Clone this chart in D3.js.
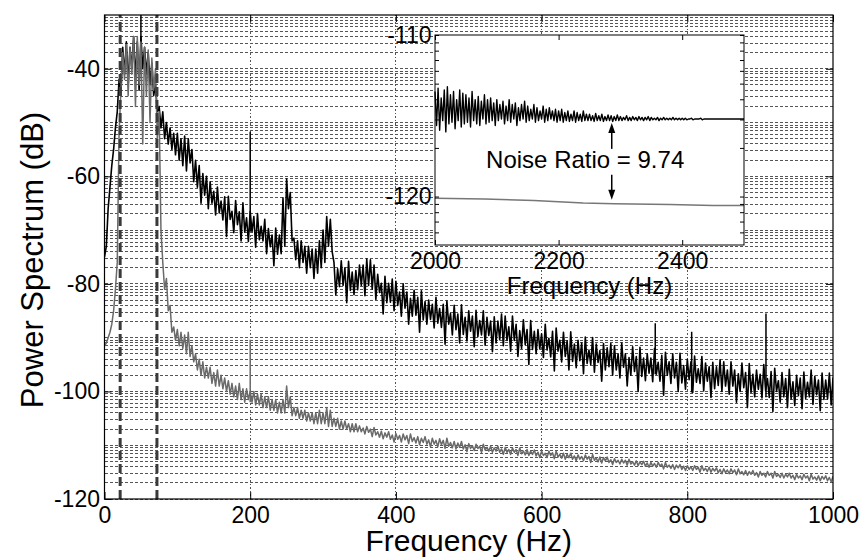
<!DOCTYPE html>
<html>
<head>
<meta charset="utf-8">
<script src="https://cdn.jsdelivr.net/npm/d3@7"></script>
<style>
  body { margin: 0; background: #fff; }
  svg { display: block; font-family: "Liberation Sans", Arial, sans-serif; }
</style>
</head>
<body>
<div id="chart"></div>
<script>
// spectrum: one high and one low value per 5 Hz bin
var freqBins = d3.range(0, 1001, 5);

var blackHigh = [
  -75, -66, -58, -51, -42, -36, -35, -36, -34, -35,
  -34, -36, -37, -39, -43, -47, -48, -50, -51, -52,
  -52, -53, -52.5, -53, -55, -57, -58, -59.5, -60, -61,
  -62.8, -62, -64.6, -63.8, -63.7, -66.5, -64.5, -66.6, -64.9, -67.7,
  -66.5, -67.5, -66.9, -69.3, -68, -69.7, -70.9, -69.6, -70.9, -64,
  -60.5, -63, -71.5, -72, -72, -73, -73, -73.5, -73.5, -72,
  -70, -67.5, -68, -76, -77.2, -75.7, -77, -75.8, -77.8, -77.5,
  -76.5, -76.5, -75.4, -75.5, -76.5, -78.2, -79.9, -78.6, -79.9, -79.1,
  -79.5, -81.5, -80, -81.5, -82.7, -81.2, -82.5, -81.3, -83.3, -83,
  -83.8, -82.5, -84.6, -83.8, -83.2, -85.5, -84, -85.6, -83.9, -86.2,
  -85, -86, -84.9, -86.8, -85, -86.2, -86.9, -86.1, -86.9, -85.6,
  -86, -88, -86, -87.5, -88.7, -86.7, -88.5, -86.8, -88.8, -88.5,
  -89.3, -87.5, -90.1, -88.8, -88.2, -90.5, -89, -90.6, -88.9, -91.2,
  -90.5, -91, -89.9, -92.3, -90, -91.2, -92.4, -91.1, -91.9, -91.1,
  -91.5, -93, -91, -93, -93.7, -91.7, -93.5, -91.8, -93.8, -93,
  -93.8, -92, -94.6, -93.3, -92.7, -94.5, -93, -94.6, -92.9, -95.2,
  -94, -94.5, -93.4, -95.8, -93.5, -94.7, -95.4, -94.6, -95.4, -94.1,
  -94.5, -96, -94.5, -96, -96.7, -94.7, -96.5, -94.8, -96.8, -96,
  -96.8, -95, -97.6, -96.3, -95.7, -98, -96.5, -97.6, -95.9, -98.2,
  -97, -97.5, -96.4, -98.3, -96, -97.2, -97.9, -96.6, -97.9, -96.6,
  -97.5
];

var blackLow = [
  -73, -62, -55, -48, -45, -41, -43, -40, -42, -44,
  -40, -41, -43, -45, -48, -51, -53, -54, -55, -56,
  -57, -58, -59, -57.5, -61, -62, -65, -63.5, -66, -65,
  -67.2, -66.8, -68.1, -71.2, -68, -70.5, -69, -72, -70.4, -72.1,
  -70.3, -73.2, -71.8, -72, -74.4, -73.1, -76.6, -74.5, -74.4, -73,
  -66, -72, -75.5, -77, -76, -78, -77, -79, -78, -77,
  -76, -73, -74, -82, -80.5, -80.3, -83.5, -81.2, -82, -81.1,
  -80.3, -82.2, -80.3, -81, -82.9, -81.6, -85.6, -83.5, -83.4, -85,
  -84, -86, -84.5, -87.5, -86, -85.8, -89, -86.7, -87.5, -86.6,
  -88.2, -87.3, -88.1, -91.2, -87.5, -89.5, -88.5, -91, -89.4, -90.6,
  -88.8, -91.7, -89.8, -89.5, -91.4, -89.6, -92.6, -91, -90.4, -91.5,
  -90.5, -92.5, -90.5, -93.5, -92, -91.3, -95, -92.2, -93, -92.1,
  -93.7, -92.3, -93.6, -96.2, -92.5, -94.5, -93.5, -96, -94.4, -95.6,
  -94.3, -96.7, -94.8, -95, -96.4, -94.6, -98.1, -96, -95.4, -97,
  -96, -97.5, -95.5, -99, -97, -96.3, -100, -97.2, -98, -96.6,
  -98.2, -96.8, -98.1, -100.7, -97, -98.5, -97.5, -100, -98.4, -99.6,
  -97.8, -100.2, -98.3, -98.5, -99.9, -98.1, -101.1, -99.5, -98.9, -100,
  -99, -100.5, -99, -102, -100, -99.3, -103, -100.2, -101, -99.6,
  -101.2, -99.8, -101.1, -103.7, -100, -102, -101, -103, -101.4, -102.6,
  -100.8, -103.2, -101.3, -101, -102.4, -100.6, -103.6, -101.5, -101.4, -102.5,
  -101.5
];

var grayHigh = [
  -91.5, -90, -87.5, -81, -52, -37, -35.5, -36, -34, -34,
  -35, -36, -36.5, -38, -40, -48, -76, -79, -84, -88,
  -88.5, -89, -89.5, -89, -91.5, -93, -94, -94.5, -95.5, -95.5,
  -96.5, -96, -97, -97.5, -98, -98.5, -99, -98.5, -99.5, -99.5,
  -100, -100, -100.5, -100.5, -101, -101, -101.5, -101.5, -102, -101.5,
  -99, -101, -103, -103, -103.5, -103.5, -104, -104, -104, -103.5,
  -104, -103, -103.5, -105, -105, -105.5, -105.5, -106, -106, -106,
  -106.4, -106.8, -106.5, -107, -106.7, -107.5, -107.4, -107.7, -107.5, -108.1,
  -107.8, -108.2, -107.9, -108.2, -107.9, -108.6, -108.4, -108.7, -108.4, -109,
  -108.7, -109.1, -108.8, -109.1, -108.7, -109.5, -109.3, -109.6, -109.3, -109.9,
  -109.7, -110.1, -109.8, -110.2, -109.8, -110.4, -110.2, -110.5, -110.2, -110.7,
  -110.4, -110.8, -110.5, -110.8, -110.5, -111.1, -110.8, -111.1, -110.9, -111.3,
  -111.1, -111.5, -111.1, -111.4, -111.1, -111.7, -111.5, -111.7, -111.5, -112,
  -111.8, -112.1, -111.8, -112.1, -111.7, -112.4, -112.2, -112.3, -112.2, -112.7,
  -112.5, -112.8, -112.6, -112.8, -112.6, -113.1, -112.9, -113.1, -113, -113.3,
  -113.2, -113.4, -113.2, -113.5, -113.2, -113.7, -113.6, -113.7, -113.6, -113.9,
  -113.8, -114, -113.8, -114.1, -113.8, -114.3, -114.1, -114.3, -114.2, -114.5,
  -114.4, -114.6, -114.4, -114.6, -114.4, -114.9, -114.7, -114.9, -114.7, -115.1,
  -114.9, -115.2, -114.9, -115.2, -114.9, -115.4, -115.2, -115.4, -115.2, -115.6,
  -115.4, -115.7, -115.4, -115.7, -115.4, -115.9, -115.7, -115.8, -115.7, -116,
  -115.8
];

var grayLow = [
  -91, -89, -85, -76, -44, -42, -45, -41, -47, -43,
  -54, -45, -50, -44, -53, -70, -81, -85, -89, -90.5,
  -91.5, -92, -93, -93.5, -94.5, -96, -97, -97.5, -97.5, -98.5,
  -99, -99, -99.5, -100, -100.5, -101, -101.5, -101.5, -102, -101.5,
  -102, -102.5, -102.5, -103, -103, -103.5, -103.5, -104, -104, -104,
  -103, -104.5, -104.5, -105, -105, -105.5, -105.5, -106, -106, -106,
  -106, -106.5, -106.5, -106.5, -107, -107, -107, -107.5, -107.5, -107.5,
  -107.5, -107.9, -107.6, -108.4, -108.1, -108.5, -108.8, -108.5, -108.9, -109.4,
  -108.9, -109.4, -109, -109.7, -109.3, -109.6, -109.9, -109.5, -109.8, -110.3,
  -109.8, -110.3, -109.9, -110.6, -110.2, -110.5, -110.7, -110.4, -110.7, -111.2,
  -110.6, -111, -110.6, -111.3, -110.9, -111.1, -111.3, -111.1, -111.3, -111.7,
  -111.3, -111.7, -111.3, -111.9, -111.6, -111.8, -111.9, -111.7, -112, -112.3,
  -111.9, -112.3, -111.9, -112.5, -112.2, -112.4, -112.6, -112.3, -112.6, -112.9,
  -112.6, -112.9, -112.6, -113.2, -112.8, -113.1, -113.3, -112.9, -113.2, -113.6,
  -113.2, -113.5, -113.3, -113.7, -113.5, -113.7, -113.8, -113.6, -113.9, -114.1,
  -113.9, -114.1, -113.9, -114.4, -114.1, -114.3, -114.5, -114.2, -114.5, -114.7,
  -114.5, -114.7, -114.5, -115, -114.7, -114.9, -115, -114.8, -115.1, -115.3,
  -115.1, -115.3, -115.1, -115.5, -115.3, -115.5, -115.6, -115.4, -115.6, -115.9,
  -115.6, -115.9, -115.6, -116.1, -115.8, -116, -116.1, -115.9, -116.1, -116.4,
  -116.1, -116.4, -116.1, -116.6, -116.3, -116.5, -116.6, -116.3, -116.6, -116.8,
  -116.4
];

// narrow line spikes (Hz, peak dB)
var blackSpikeFreq = [50, 200, 756, 806, 908];
var blackSpikeTop = [-29, -51.7, -87.3, -88.9, -85.5];
var graySpikeFreq = [200];
var graySpikeTop = [-90.4];

var cutoffFreq = [21.5, 72];
var xTicks = [0, 200, 400, 600, 800, 1000];
var yTicks = [-120, -100, -80, -60, -40];

// inset, 5 Hz bins
var insetFreq = d3.range(2000, 2501, 5);
var insetBlackHigh = [
  -113.5, -113.3, -113.9, -113.4, -113.2, -113.7, -113.5, -114.0, -113.4, -113.6,
  -113.7, -113.9, -113.5, -114.0, -113.8, -114.1, -113.7, -114.0, -113.9, -114.2,
  -114.0, -114.3, -114.1, -114.4, -114.0, -114.3, -114.2, -114.5, -114.3, -114.1,
  -114.4, -114.6, -114.3, -114.5, -114.7, -114.4, -114.6, -114.5, -114.7, -114.6,
  -114.7, -114.6, -114.8, -114.7, -114.9, -114.7, -114.8, -114.9, -114.7, -114.9,
  -114.9, -115.0, -114.85, -115.0, -114.9, -115.05, -114.95, -115.0, -115.05, -114.95,
  -115.05, -115.1, -115.0, -115.1, -115.05, -115.1, -115.05, -115.1, -115.1, -115.05,
  -115.1, -115.15, -115.1, -115.15, -115.1, -115.15, -115.15, -115.1, -115.15, -115.15,
  -115.15, -115.15, -115.2, -115.15, -115.2, -115.2, -115.15, -115.2, -115.2, -115.2,
  -115.2, -115.2, -115.2, -115.2, -115.2, -115.2, -115.2, -115.2, -115.2, -115.2,
  -115.2
];
var insetBlackLow = [
  -115.6, -115.9, -115.3, -116.0, -115.5, -115.4, -115.8, -115.3, -115.7, -115.5,
  -115.4, -115.7, -115.3, -115.5, -115.6, -115.2, -115.5, -115.4, -115.3, -115.6,
  -115.3, -115.2, -115.5, -115.3, -115.4, -115.2, -115.6, -115.3, -115.2, -115.4,
  -115.3, -115.2, -115.4, -115.3, -115.2, -115.4, -115.3, -115.2, -115.3, -115.4,
  -115.3, -115.4, -115.3, -115.35, -115.3, -115.4, -115.3, -115.35, -115.3, -115.3,
  -115.3, -115.35, -115.3, -115.3, -115.35, -115.3, -115.3, -115.35, -115.3, -115.3,
  -115.3, -115.25, -115.3, -115.3, -115.25, -115.3, -115.25, -115.3, -115.25, -115.3,
  -115.25, -115.25, -115.3, -115.25, -115.25, -115.25, -115.25, -115.25, -115.25, -115.25,
  -115.25, -115.25, -115.2, -115.25, -115.2, -115.2, -115.25, -115.2, -115.2, -115.2,
  -115.2, -115.2, -115.2, -115.2, -115.2, -115.2, -115.2, -115.2, -115.2, -115.2,
  -115.2
];
var insetGrayFreq = [2000, 2080, 2160, 2240, 2290, 2380, 2450, 2500];
var insetGrayVal = [-120.1, -120.15, -120.25, -120.4, -120.45, -120.5, -120.55, -120.55];
var insetXTicks = [2000, 2200, 2400];
var insetYTicks = [-120, -110];
var ratioText = "Noise Ratio = 9.74";
var ratioFreq = 2286;
var ratioUp = [-117.05, -115.45];
var ratioDown = [-118.65, -120.2];

var w = 860;
var h = 559;
var margin = {top: 15, right: 27, bottom: 60, left: 104.5};

var svg = d3.select("#chart")
  .append("svg")
    .attr("width", w)
    .attr("height", h);

svg.append("rect")
  .attr("width", w)
  .attr("height", h)
  .attr("fill", "white");

var x = d3.scaleLinear()
  .domain([0, 1000])
  .range([margin.left, w - margin.right]);

var y = d3.scaleLinear()
  .domain([-120, -30])
  .range([h - margin.bottom, margin.top]);

// plain hyphen, no thousands comma
var fmt = d => String(d);

svg.append("clipPath")
  .attr("id", "plotclip")
  .append("rect")
    .attr("x", x(0))
    .attr("y", y(-30))
    .attr("width", x(1000) - x(0))
    .attr("height", y(-120) - y(-30));

// grid: log style minor lines inside every 10 dB step
var gridVals = [];
d3.range(-120, -30, 10).forEach(function (a) {
  gridVals.push(a);
  d3.range(2, 10).forEach(function (k) {
    gridVals.push(a + 10 * Math.log10(k));
  });
});

var grid = svg.append("g").attr("shape-rendering", "crispEdges");
grid.selectAll("line.h")
  .data(gridVals)
  .enter().append("line")
    .attr("class", "h")
    .attr("x1", x(0))
    .attr("x2", x(1000))
    .attr("y1", d => y(d))
    .attr("y2", d => y(d))
    .attr("stroke", "#555")
    .attr("stroke-width", 1)
    .attr("stroke-dasharray", "3,2");

grid.selectAll("line.v")
  .data(xTicks.slice(1, -1))
  .enter().append("line")
    .attr("class", "v")
    .attr("x1", d => x(d))
    .attr("x2", d => x(d))
    .attr("y1", y(-120))
    .attr("y2", y(-30))
    .attr("stroke", "#555")
    .attr("stroke-width", 1)
    .attr("stroke-dasharray", "1.5,2");

function zigzag(freqs, hi, lo, step) {
  var pts = [];
  freqs.forEach(function (f, i) {
    pts.push([f, hi[i]]);
    pts.push([f + step / 2, lo[i]]);
  });
  return pts;
}

var plot = svg.append("g").attr("clip-path", "url(#plotclip)");

var line = d3.line()
  .x(d => x(d[0]))
  .y(d => y(d[1]));

plot.append("path")
  .datum(zigzag(freqBins, blackHigh, blackLow, 5))
  .attr("d", line)
  .attr("fill", "none")
  .attr("stroke", "#000")
  .attr("stroke-width", 1.6)
  .attr("stroke-linejoin", "round");

plot.selectAll("line.bs")
  .data(blackSpikeFreq)
  .enter().append("line")
    .attr("class", "bs")
    .attr("x1", d => x(d))
    .attr("x2", d => x(d))
    .attr("y1", d => y(blackLow[Math.round(d / 5)]))
    .attr("y2", (d, i) => y(blackSpikeTop[i]))
    .attr("stroke", "#000")
    .attr("stroke-width", 1.5);

plot.append("path")
  .datum(zigzag(freqBins, grayHigh, grayLow, 5))
  .attr("d", line)
  .attr("fill", "none")
  .attr("stroke", "#6a6a6a")
  .attr("stroke-width", 1.5)
  .attr("stroke-linejoin", "round");

plot.selectAll("line.gs")
  .data(graySpikeFreq)
  .enter().append("line")
    .attr("class", "gs")
    .attr("x1", d => x(d))
    .attr("x2", d => x(d))
    .attr("y1", d => y(grayLow[Math.round(d / 5)]))
    .attr("y2", (d, i) => y(graySpikeTop[i]))
    .attr("stroke", "#6a6a6a")
    .attr("stroke-width", 1.5);

// band edges
plot.selectAll("line.cut")
  .data(cutoffFreq)
  .enter().append("line")
    .attr("class", "cut")
    .attr("x1", d => x(d))
    .attr("x2", d => x(d))
    .attr("y1", y(-120))
    .attr("y2", y(-30))
    .attr("stroke", "#3a3a3a")
    .attr("stroke-width", 3)
    .attr("stroke-dasharray", "9,4");

// axes, ticks pointing in
var fontFam = '"Liberation Sans", Arial, sans-serif';

svg.append("g")
  .attr("transform", `translate(0, ${y(-120)})`)
  .call(d3.axisBottom(x).tickValues(xTicks).tickFormat(fmt).tickSizeInner(-7).tickSizeOuter(0).tickPadding(8))
  .attr("font-size", 23)
  .attr("font-family", fontFam)
  .call(g => g.select(".domain").remove());

svg.append("g")
  .attr("transform", `translate(0, ${y(-30)})`)
  .call(d3.axisTop(x).tickValues(xTicks).tickSizeInner(-7).tickSizeOuter(0).tickFormat(""))
  .call(g => g.select(".domain").remove());

svg.append("g")
  .attr("transform", `translate(${x(0)}, 0)`)
  .call(d3.axisLeft(y).tickValues(yTicks).tickFormat(fmt).tickSizeInner(-7).tickSizeOuter(0).tickPadding(4.5))
  .attr("font-size", 23)
  .attr("font-family", fontFam)
  .call(g => g.select(".domain").remove());

svg.append("g")
  .attr("transform", `translate(${x(1000)}, 0)`)
  .call(d3.axisRight(y).tickValues(yTicks).tickSizeInner(-7).tickSizeOuter(0).tickFormat(""))
  .call(g => g.select(".domain").remove());

svg.append("rect")
  .attr("x", x(0))
  .attr("y", y(-30))
  .attr("width", x(1000) - x(0))
  .attr("height", y(-120) - y(-30))
  .attr("fill", "none")
  .attr("stroke", "#000")
  .attr("stroke-width", 1.2);

svg.append("text")
  .attr("x", (x(0) + x(1000)) / 2)
  .attr("y", 551)
  .attr("text-anchor", "middle")
  .attr("font-size", 30)
  .text("Frequency (Hz)");

svg.append("text")
  .attr("transform", `translate(43, 260) rotate(-90)`)
  .attr("text-anchor", "middle")
  .attr("font-size", 31)
  .text("Power Spectrum (dB)");

// inset
var xi = d3.scaleLinear()
  .domain([2000, 2500])
  .range([435, 744]);

var yi = d3.scaleLinear()
  .domain([-123, -110])
  .range([245, 35]);

var inset = svg.append("g");

inset.append("rect")
  .attr("x", xi(2000))
  .attr("y", yi(-110))
  .attr("width", xi(2500) - xi(2000))
  .attr("height", yi(-123) - yi(-110))
  .attr("fill", "white");

var lineI = d3.line()
  .x(d => xi(d[0]))
  .y(d => yi(d[1]));

inset.append("path")
  .datum(insetGrayFreq.map((f, i) => [f, insetGrayVal[i]]))
  .attr("d", lineI)
  .attr("fill", "none")
  .attr("stroke", "#777")
  .attr("stroke-width", 1.5);

inset.append("path")
  .datum(zigzag(insetFreq, insetBlackHigh, insetBlackLow, 5).filter(d => d[0] <= 2500))
  .attr("d", lineI)
  .attr("fill", "none")
  .attr("stroke", "#000")
  .attr("stroke-width", 1.4)
  .attr("stroke-linejoin", "round");

var minorI = [];
[-130, -120].forEach(function (a) {
  d3.range(2, 10).forEach(function (k) {
    var v = a + 10 * Math.log10(k);
    if (v > -123 && v < -110) minorI.push(v);
  });
});

inset.append("g")
  .attr("transform", `translate(0, ${yi(-123)})`)
  .call(d3.axisBottom(xi).tickValues(insetXTicks).tickFormat(fmt).tickSizeInner(-5).tickSizeOuter(0).tickPadding(8))
  .attr("font-size", 23)
  .attr("font-family", fontFam)
  .call(g => g.select(".domain").remove());

inset.append("g")
  .attr("transform", `translate(0, ${yi(-110)})`)
  .call(d3.axisTop(xi).tickValues(insetXTicks).tickSizeInner(-5).tickSizeOuter(0).tickFormat(""))
  .call(g => g.select(".domain").remove());

inset.append("g")
  .attr("transform", `translate(${xi(2000)}, 0)`)
  .call(d3.axisLeft(yi).tickValues(insetYTicks.concat(minorI)).tickSizeInner(-4).tickSizeOuter(0).tickPadding(3.5)
    .tickFormat(d => insetYTicks.indexOf(d) >= 0 ? fmt(d) : ""))
  .attr("font-size", 23)
  .attr("font-family", fontFam)
  .call(g => g.select(".domain").remove());

inset.append("g")
  .attr("transform", `translate(${xi(2500)}, 0)`)
  .call(d3.axisRight(yi).tickValues(insetYTicks.concat(minorI)).tickSizeInner(-4).tickSizeOuter(0).tickFormat(""))
  .call(g => g.select(".domain").remove());

inset.append("rect")
  .attr("x", xi(2000))
  .attr("y", yi(-110))
  .attr("width", xi(2500) - xi(2000))
  .attr("height", yi(-123) - yi(-110))
  .attr("fill", "none")
  .attr("stroke", "#000")
  .attr("stroke-width", 1);

inset.append("text")
  .attr("x", (xi(2000) + xi(2500)) / 2)
  .attr("y", 294)
  .attr("text-anchor", "middle")
  .attr("font-size", 24)
  .text("Frequency (Hz)");

// noise ratio annotation
inset.append("text")
  .attr("x", xi(2243))
  .attr("y", 168)
  .attr("text-anchor", "middle")
  .attr("font-size", 24)
  .text(ratioText);

function arrow(from, to) {
  var ax = xi(ratioFreq), y0 = yi(from), y1 = yi(to);
  var dir = y1 < y0 ? 1 : -1;
  inset.append("line")
    .attr("x1", ax).attr("x2", ax)
    .attr("y1", y0).attr("y2", y1 + dir * 8)
    .attr("stroke", "#000")
    .attr("stroke-width", 1.5);
  inset.append("path")
    .attr("d", `M${ax},${y1} L${ax - 3.5},${y1 + dir * 10} L${ax + 3.5},${y1 + dir * 10} Z`)
    .attr("fill", "#000");
}
arrow(ratioUp[0], ratioUp[1]);
arrow(ratioDown[0], ratioDown[1]);
</script>
</body>
</html>
